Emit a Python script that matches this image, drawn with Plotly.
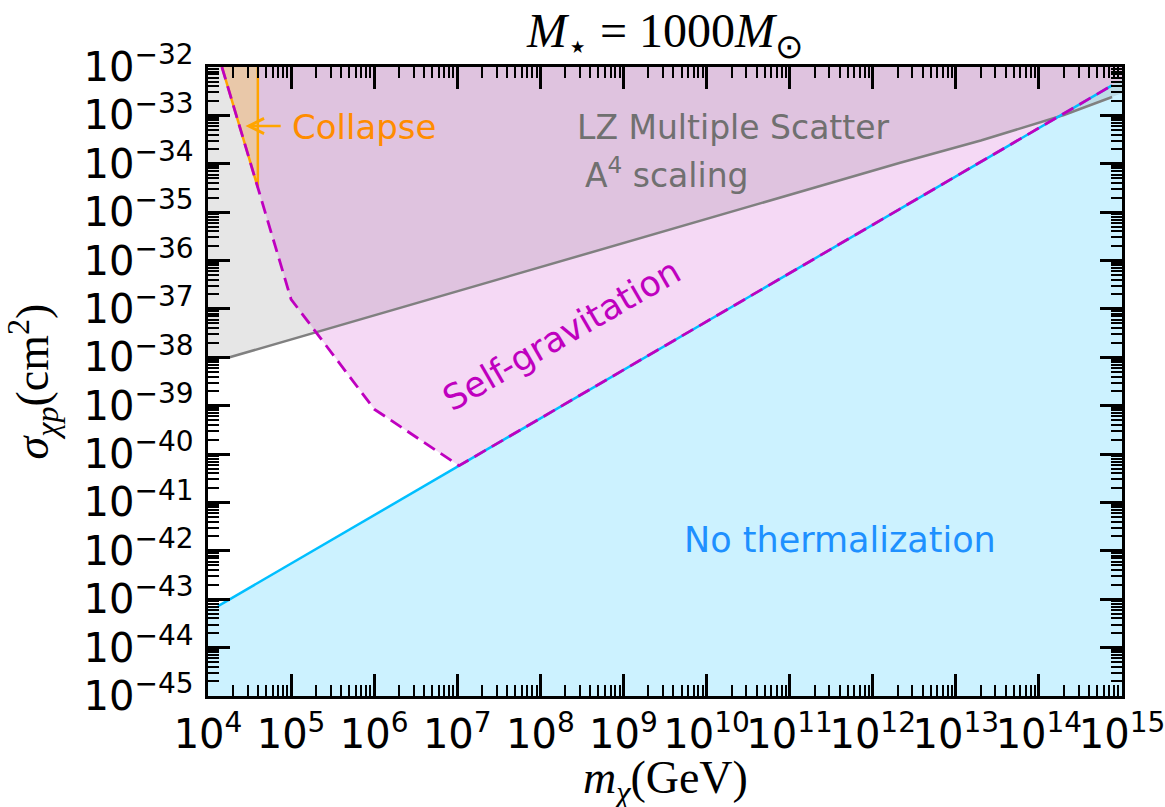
import numpy as np
import plotly.graph_objects as go

# ---------------- data ----------------
x_range = [1e4, 1e15]
y_range = [1e-45, 1e-32]

# No-thermalization boundary (cyan)
cyan_m = [1.32e4, 7.6e14]
cyan_sigma = [7.2e-44, 4.17e-33]

# LZ multiple scatter, A^4 scaling (gray)
gray_m = [1.82e4, 2.14e12, 2.0e13, 2.0e14, 7.6e14]
gray_sigma = [1.0e-38, 1.05e-34, 3.02e-34, 1.02e-33, 2.4e-33]

# Self-gravitation boundary (magenta dashed)
sg_m = [1.47e4, 3.98e4, 1.0e5, 1.0e6, 1.05e7, 7.6e14]
sg_sigma = [1.0e-32, 3.24e-35, 1.58e-37, 8.5e-40, 5.75e-41, 4.17e-33]

# Collapse region (orange)
col_m = [1.47e4, 3.98e4, 3.98e4]
col_sigma = [1.0e-32, 3.24e-35, 1.0e-32]


def extrap_right(m, s, xr):
    lm, ls = np.log10(m), np.log10(s)
    slope = (ls[-1] - ls[-2]) / (lm[-1] - lm[-2])
    return 10 ** (ls[-1] + slope * (np.log10(xr) - lm[-1]))


xl, xr = x_range
yb, yt = y_range

fig = go.Figure()

# cyan fill (below the no-thermalization line)
cy_end = extrap_right(cyan_m, cyan_sigma, xr)
fig.add_trace(go.Scatter(
    x=[xl] + cyan_m + [xr, xr, xl],
    y=[cyan_sigma[0]] + cyan_sigma + [cy_end, yb, yb],
    fill="toself", fillcolor="rgba(0,191,255,0.2)", line=dict(width=0),
    mode="lines", hoverinfo="skip"))

# gray fill (above LZ line)
gr_end = extrap_right(gray_m, gray_sigma, xr)
fig.add_trace(go.Scatter(
    x=[xl] + gray_m + [xr, xr, xl],
    y=[gray_sigma[0]] + gray_sigma + [gr_end, yt, yt],
    fill="toself", fillcolor="rgba(128,128,128,0.2)", line=dict(width=0),
    mode="lines", hoverinfo="skip"))

# pink fill (above self-gravitation line)
sg_end = extrap_right(sg_m, sg_sigma, xr)
fig.add_trace(go.Scatter(
    x=sg_m + [xr, xr],
    y=sg_sigma + [sg_end, yt],
    fill="toself", fillcolor="rgba(191,0,191,0.15)", line=dict(width=0),
    mode="lines", hoverinfo="skip"))

# collapse fill
fig.add_trace(go.Scatter(
    x=col_m, y=col_sigma, fill="toself", fillcolor="rgba(255,210,60,0.33)",
    line=dict(width=0), mode="lines", hoverinfo="skip"))

# lines
fig.add_trace(go.Scatter(x=gray_m, y=gray_sigma, mode="lines",
                         line=dict(color="#808080", width=2.5), hoverinfo="skip"))
fig.add_trace(go.Scatter(x=cyan_m, y=cyan_sigma, mode="lines",
                         line=dict(color="#00bfff", width=2.5), hoverinfo="skip"))
fig.add_trace(go.Scatter(x=col_m, y=col_sigma, mode="lines",
                         line=dict(color="#ffa500", width=2.5), hoverinfo="skip"))
fig.add_trace(go.Scatter(x=sg_m, y=sg_sigma, mode="lines",
                         line=dict(color="#bf00bf", width=2.8, dash="13px,7px"),
                         hoverinfo="skip"))

tickfont = dict(family="DejaVu Sans", size=32, color="black")
serif = "Liberation Serif"

axis_common = dict(
    type="log", dtick=1, exponentformat="power", showgrid=False, zeroline=False,
    ticks="inside", ticklen=22, tickwidth=2.5, tickcolor="black",
    showline=True, linewidth=3, linecolor="black", mirror="allticks",
    tickfont=tickfont, tickangle=0, automargin=False,
    ticklabeloverflow="allow",
    minor=dict(ticks="inside", ticklen=11, tickwidth=1.5, tickcolor="black",
               dtick="D1", showgrid=False),
)

fig.update_xaxes(range=[np.log10(xl), np.log10(xr)], **axis_common,
                 ticklabelstandoff=3)
fig.update_yaxes(range=[np.log10(yb), np.log10(yt)], **axis_common,
                 ticklabelstandoff=5,
                 title=dict(text="<i>σ</i><sub><i>χp</i></sub>(cm<sup>2</sup>)",
                            font=dict(family=serif, size=46, color="black"),
                            standoff=24))

# x-axis title placed as a paper annotation below the tick labels
fig.add_annotation(x=0.5, y=0, xref="paper", yref="paper",
                   text="<i>m</i><sub><i>χ</i></sub>(GeV)", showarrow=False,
                   xanchor="center", yanchor="middle", yshift=-85,
                   font=dict(family=serif, size=46, color="black"))

ann_font = "DejaVu Sans"
fig.add_annotation(x=4.99, y=-33.23, xref="x", yref="y", text="Collapse",
                   showarrow=False, xanchor="left", yanchor="middle",
                   font=dict(family=ann_font, size=34, color="#ff8c00"))
fig.add_annotation(x=4.451, y=-33.22, xref="x", yref="y", text="",
                   showarrow=True, ax=4.893, ay=-33.22, axref="x", ayref="y",
                   arrowhead=5, arrowsize=1.2, arrowwidth=2.5, arrowcolor="#ffa500")
fig.add_annotation(x=8.42, y=-33.25, xref="x", yref="y", text="LZ Multiple Scatter",
                   showarrow=False, xanchor="left", yanchor="middle",
                   font=dict(family=ann_font, size=33, color="#707070"))
fig.add_annotation(x=8.51, y=-34.2, xref="x", yref="y", text="A<sup>4</sup> scaling",
                   showarrow=False, xanchor="left", yanchor="middle",
                   font=dict(family=ann_font, size=33, color="#707070"))
fig.add_annotation(x=8.25, y=-37.53, xref="x", yref="y", text="Self-gravitation",
                   showarrow=False, textangle=-30,
                   font=dict(family=ann_font, size=35, color="#bf00bf"))
fig.add_annotation(x=11.61, y=-41.77, xref="x", yref="y", text="No thermalization",
                   showarrow=False,
                   font=dict(family=ann_font, size=35, color="#1e90ff"))

fig.update_layout(
    width=1165, height=807,
    margin=dict(l=207.5, r=43, t=67.3, b=111),
    paper_bgcolor="white", plot_bgcolor="white",
    showlegend=False,
    title=dict(text="<i>M</i><sub>⋆</sub> = 1000<i>M</i><sub>⊙</sub>",
               x=0.5, xref="paper", xanchor="center",
               y=0.962, yref="container", yanchor="middle",
               font=dict(family=serif, size=48, color="black")),
)

# remove the default page margin so the figure fills the window exactly
fig.write_html("out.html",
               config={"displayModeBar": False},
               post_script="document.body.style.margin='0';"
                           "document.body.style.overflow='hidden';")
